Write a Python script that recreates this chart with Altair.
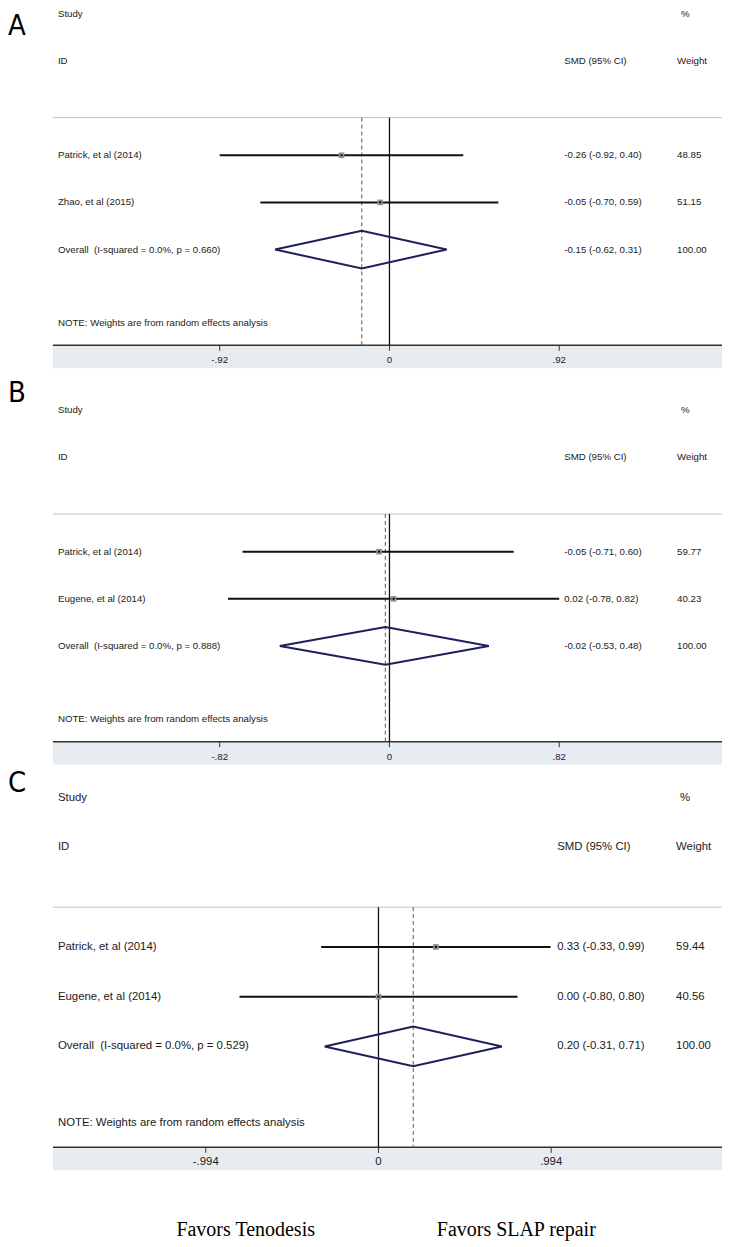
import altair as alt
import pandas as pd

# ---------------- data ----------------
A_studies = ["Patrick, et al (2014)", "Zhao, et al (2015)"]
A_smd = [-0.26, -0.05]
A_lo = [-0.92, -0.70]
A_hi = [0.40, 0.59]
A_weight = [48.85, 51.15]
A_overall = [-0.15, -0.62, 0.31]
A_het = ["0.0%", "0.660"]
A_ticks = [-0.92, 0.0, 0.92]
A_tick_labels = ["-.92", "0", ".92"]

B_studies = ["Patrick, et al (2014)", "Eugene, et al (2014)"]
B_smd = [-0.05, 0.02]
B_lo = [-0.71, -0.78]
B_hi = [0.60, 0.82]
B_weight = [59.77, 40.23]
B_overall = [-0.02, -0.53, 0.48]
B_het = ["0.0%", "0.888"]
B_ticks = [-0.82, 0.0, 0.82]
B_tick_labels = ["-.82", "0", ".82"]

C_studies = ["Patrick, et al (2014)", "Eugene, et al (2014)"]
C_smd = [0.33, 0.00]
C_lo = [-0.33, -0.80]
C_hi = [0.99, 0.80]
C_weight = [59.44, 40.56]
C_overall = [0.20, -0.31, 0.71]
C_het = ["0.0%", "0.529"]
C_ticks = [-0.994, 0.0, 0.994]
C_tick_labels = ["-.994", "0", ".994"]

favors = ["Favors Tenodesis", "Favors SLAP repair"]

# ---------------- layout ----------------
W = 715
SANS = "Liberation Sans, Arial, sans-serif"
LETTER = "Liberation Sans Narrow, DejaVu Sans Condensed, sans-serif"
SERIF = "Liberation Serif, Times New Roman, serif"


def fmt(v):
    return f"{v:.2f}"


def panel(letter, studies, smd, lo, hi, weight, overall, het, ticks, tick_labels,
          H, ppr, off, zero_px, ppu, fs, smd_x, w_x, letter_y, extra=None):
    ytop = -off / ppr
    ybot = (H - off) / ppr
    xs = alt.Scale(domain=[(0 - (zero_px - 8)) / ppu, (W - (zero_px - 8)) / ppu],
                   nice=False, zero=False)
    ys = alt.Scale(domain=[ytop, ybot], reverse=True, nice=False, zero=False)

    def X(f, **k):
        return alt.X(f, type="quantitative", scale=xs, axis=None, **k)

    def Y(f, **k):
        return alt.Y(f, type="quantitative", scale=ys, axis=None, **k)

    def YD(v):
        return alt.YDatum(v, type="quantitative", scale=ys, axis=None)

    def XD(v):
        return alt.XDatum(v, type="quantitative", scale=xs, axis=None)

    LINE_ROW = 2.2
    AXIS_ROW = 7.03
    BAND_BOT = AXIS_ROW + 23 / ppr
    NOTE_ROW = 6.55
    OV_ROW = 5

    one = pd.DataFrame({"a": [0]})
    base = alt.Chart(one)

    rows = list(range(3, 3 + len(studies)))
    sd = pd.DataFrame({
        "row": rows, "study": studies, "smd": smd, "lo": lo, "hi": hi,
        "ci": [f"{fmt(s)} ({fmt(l)}, {fmt(h)})" for s, l, h in zip(smd, lo, hi)],
        "w": [fmt(w) for w in weight],
    })
    est, olo, ohi = overall
    od = pd.DataFrame({
        "row": [OV_ROW],
        "study": [f"Overall\u00a0 (I-squared = {het[0]}, p = {het[1]})"],
        "ci": [f"{fmt(est)} ({fmt(olo)}, {fmt(ohi)})"],
        "w": ["100.00"],
    })
    dd = pd.DataFrame({
        "x": [olo, est, ohi, est, olo],
        "y": [OV_ROW, OV_ROW - 0.4, OV_ROW, OV_ROW + 0.4, OV_ROW],
        "o": [0, 1, 2, 3, 4],
    })
    td = pd.DataFrame({"t": ticks, "lab": tick_labels})
    hd = pd.DataFrame({
        "txt": ["Study", "ID", "SMD (95% CI)", "%", "Weight"],
        "row": [0, 1, 1, 0, 1],
        "col": ["s", "s", "c", "p", "w"],
    })

    layers = []
    # grey band under axis
    layers.append(base.mark_rect(color="#e6ecef").encode(
        x=alt.value(45), x2=alt.value(W), y=YD(AXIS_ROW), y2=alt.Y2Datum(BAND_BOT)))
    # top separator
    layers.append(base.mark_rule(color="#c4c4c4", strokeWidth=1).encode(
        x=alt.value(45), x2=alt.value(W), y=YD(LINE_ROW)))
    # axis line
    layers.append(base.mark_rule(color="#333333", strokeWidth=1.5).encode(
        x=alt.value(45), x2=alt.value(W), y=YD(AXIS_ROW)))
    # ticks
    layers.append(alt.Chart(td).mark_rule(color="#333333", strokeWidth=1).encode(
        x=X("t"), y=YD(AXIS_ROW), y2=alt.Y2Datum(AXIS_ROW + 5.5 / ppr)))
    layers.append(alt.Chart(td).mark_text(font=SANS, fontSize=fs, color="#222222",
                                          baseline="middle").encode(
        x=X("t"), y=YD(AXIS_ROW + 15 / ppr), text="lab"))
    # null line
    layers.append(base.mark_rule(color="#111111", strokeWidth=1.3).encode(
        x=XD(0), y=YD(LINE_ROW), y2=alt.Y2Datum(AXIS_ROW)))
    # overall dashed line
    layers.append(base.mark_rule(color="#9a3b3b", strokeWidth=1,
                                 strokeDash=[4, 3]).encode(
        x=XD(est), y=YD(LINE_ROW), y2=alt.Y2Datum(AXIS_ROW)))
    # CI lines
    layers.append(alt.Chart(sd).mark_rule(color="#111111", strokeWidth=2).encode(
        x=X("lo"), x2="hi", y=Y("row")))
    # boxes
    layers.append(alt.Chart(sd).mark_square(color="#8f8f8f", opacity=1, size=32).encode(
        x=X("smd"), y=Y("row")))
    layers.append(alt.Chart(sd).mark_circle(color="#000000", opacity=1, size=5).encode(
        x=X("smd"), y=Y("row")))
    # diamond
    layers.append(alt.Chart(dd).mark_line(color="#1f1f5c", strokeWidth=2).encode(
        x=X("x"), y=Y("y"), order="o:Q"))
    # study labels
    txt = dict(font=SANS, fontSize=fs, color="#1a1a1a", baseline="middle", align="left")
    for dfr in (sd, od):
        layers.append(alt.Chart(dfr).mark_text(**txt).encode(
            x=alt.value(50), y=Y("row"), text="study"))
        layers.append(alt.Chart(dfr).mark_text(**txt).encode(
            x=alt.value(smd_x), y=Y("row"), text="ci"))
        layers.append(alt.Chart(dfr).mark_text(**txt).encode(
            x=alt.value(w_x), y=Y("row"), text="w"))
    # headers
    colx = {"s": 50, "c": smd_x, "p": w_x + 4, "w": w_x}
    for c, xv in colx.items():
        layers.append(alt.Chart(hd).transform_filter(alt.datum.col == c).mark_text(
            **txt).encode(x=alt.value(xv), y=Y("row"), text="txt"))
    # note
    layers.append(base.mark_text(**txt).encode(
        x=alt.value(50), y=YD(NOTE_ROW),
        text=alt.value("NOTE: Weights are from random effects analysis")))
    # panel letter (baseline at given pixel offset from panel top)
    layers.append(base.mark_text(font=LETTER, fontSize=29, color="#000000",
                                 baseline="alphabetic", align="left").encode(
        x=alt.value(0), y=alt.value(letter_y), text=alt.value(letter)))
    if extra is not None:
        layers.extend(extra(base, YD, ppr))

    return alt.layer(*layers).properties(width=W, height=H)


def favors_layer(base, YD, ppr):
    out = []
    for lab, xv in zip(favors, [238, 509]):
        out.append(base.mark_text(font=SERIF, fontSize=20, color="#000000",
                                  baseline="alphabetic", align="center").encode(
            x=alt.value(xv), y=YD((1237 - 798) / ppr), text=alt.value(lab)))
    return out


pA = panel("A", A_studies, A_smd, A_lo, A_hi, A_weight, A_overall, A_het,
           A_ticks, A_tick_labels, H=368, ppr=47.2, off=5, zero_px=390, ppu=184.8,
           fs=9.7, smd_x=557, w_x=670, letter_y=26)
pB = panel("B", B_studies, B_smd, B_lo, B_hi, B_weight, B_overall, B_het,
           B_ticks, B_tick_labels, H=396, ppr=47.2, off=34, zero_px=390, ppu=207.3,
           fs=9.7, smd_x=557, w_x=670, letter_y=26)
pC = panel("C", C_studies, C_smd, C_lo, C_hi, C_weight, C_overall, C_het,
           C_ticks, C_tick_labels, H=467, ppr=49.8, off=26, zero_px=379, ppu=174.0,
           fs=11.4, smd_x=550, w_x=669, letter_y=20, extra=favors_layer)

chart = alt.vconcat(pA, pB, pC, spacing=0, bounds="flush").properties(
    padding=0
).configure_view(stroke=None).resolve_scale(x="independent", y="independent")

chart.save("out.html", embed_options={"renderer": "svg", "actions": False})
